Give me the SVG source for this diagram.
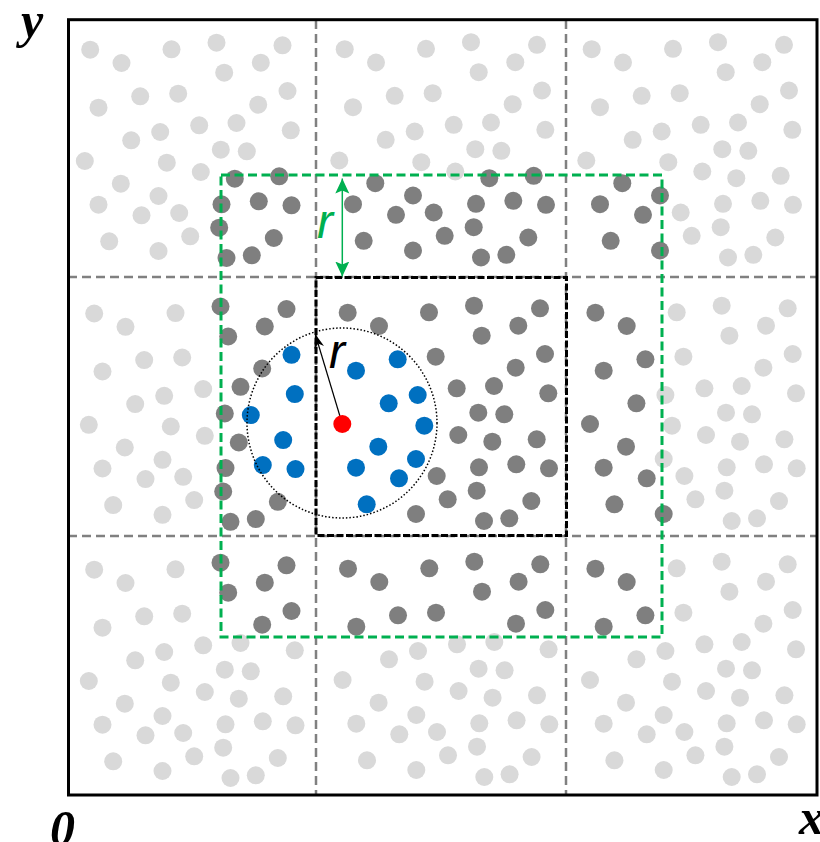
<svg xmlns="http://www.w3.org/2000/svg" xmlns:xlink="http://www.w3.org/1999/xlink" width="820" height="842" viewBox="0 0 820 842">
<style>
.L{fill:#d9d9d9}
.D{fill:#7f7f7f}
.B{fill:#0070c0}
.R{fill:#ff0000}
.grid{stroke:#808080;stroke-width:2.5;stroke-dasharray:9 5;fill:none}
.lbl{font-family:"Liberation Serif",serif;font-weight:bold;font-style:italic;font-size:50px;fill:#000}
.rl{font-family:"Liberation Sans",Arial,sans-serif;font-style:italic;font-size:48px}
</style>
<defs>
<circle id="d1" cx="347.7" cy="312.7" r="9"/>
<circle id="d2" cx="379" cy="326" r="9"/>
<circle id="d3" cx="429" cy="312.3" r="9"/>
<circle id="d4" cx="474" cy="305.7" r="9"/>
<circle id="d5" cx="540" cy="308.3" r="9"/>
<circle id="d6" cx="518.3" cy="325.7" r="9"/>
<circle id="d7" cx="481.7" cy="335.7" r="9"/>
<circle id="d8" cx="356" cy="370.7" r="9"/>
<circle id="d9" cx="397.7" cy="359.3" r="9"/>
<circle id="d10" cx="435.7" cy="356.7" r="9"/>
<circle id="d11" cx="545" cy="354" r="9"/>
<circle id="d12" cx="515.7" cy="367.7" r="9"/>
<circle id="d13" cx="388.7" cy="403.3" r="9"/>
<circle id="d14" cx="417.7" cy="395" r="9"/>
<circle id="d15" cx="456.7" cy="388.3" r="9"/>
<circle id="d16" cx="494" cy="386" r="9"/>
<circle id="d17" cx="548.3" cy="393.3" r="9"/>
<circle id="d18" cx="342.3" cy="424" r="9"/>
<circle id="d19" cx="424.3" cy="425.7" r="9"/>
<circle id="d20" cx="478.3" cy="412.7" r="9"/>
<circle id="d21" cx="504.3" cy="414.3" r="9"/>
<circle id="d22" cx="458.3" cy="435" r="9"/>
<circle id="d23" cx="378.3" cy="446.7" r="9"/>
<circle id="d24" cx="356" cy="467.7" r="9"/>
<circle id="d25" cx="416" cy="459" r="9"/>
<circle id="d26" cx="399" cy="478.3" r="9"/>
<circle id="d27" cx="436.7" cy="476" r="9"/>
<circle id="d28" cx="447.7" cy="499.3" r="9"/>
<circle id="d29" cx="366.7" cy="504.3" r="9"/>
<circle id="d30" cx="416" cy="514" r="9"/>
<circle id="d31" cx="492.3" cy="441.7" r="9"/>
<circle id="d32" cx="536.7" cy="439.3" r="9"/>
<circle id="d33" cx="479" cy="467.3" r="9"/>
<circle id="d34" cx="516.3" cy="464.3" r="9"/>
<circle id="d35" cx="549" cy="468.3" r="9"/>
<circle id="d36" cx="476.7" cy="490.7" r="9"/>
<circle id="d37" cx="531.3" cy="501" r="9"/>
<circle id="d38" cx="484" cy="521" r="9"/>
<circle id="d39" cx="509.3" cy="518.3" r="9"/>
<marker id="ahB" viewBox="0 0 14 10" refX="13" refY="5" markerWidth="14" markerHeight="10" markerUnits="userSpaceOnUse" orient="auto">
<path d="M0,0 L14,5 L0,10 L4,5 z" fill="#000"/>
</marker>
<marker id="ahG" viewBox="0 0 16 16" refX="15" refY="8" markerWidth="16" markerHeight="16" markerUnits="userSpaceOnUse" orient="auto-start-reverse">
<path d="M0,1 L15,8 L0,15 L3,8 z" fill="#00b050"/>
</marker>
</defs>
<rect x="0" y="0" width="820" height="842" fill="#fff"/>
<g id="dots">
<g id="cell-tl" transform="translate(-257.5,-263)">
<g class="L"><use href="#d1"/><use href="#d2"/><use href="#d3"/><use href="#d4"/><use href="#d5"/><use href="#d6"/><use href="#d7"/><use href="#d8"/><use href="#d9"/><use href="#d10"/><use href="#d11"/><use href="#d12"/><use href="#d13"/><use href="#d14"/><use href="#d15"/><use href="#d16"/><use href="#d17"/><use href="#d18"/><use href="#d19"/><use href="#d20"/><use href="#d21"/><use href="#d22"/><use href="#d23"/><use href="#d24"/><use href="#d25"/><use href="#d26"/><use href="#d27"/><use href="#d28"/><use href="#d29"/><use href="#d30"/></g>
<g class="D"><use href="#d31"/><use href="#d32"/><use href="#d33"/><use href="#d34"/><use href="#d35"/><use href="#d36"/><use href="#d37"/><use href="#d38"/><use href="#d39"/></g>
</g>
<g id="cell-tm" transform="translate(-3,-263.5)">
<g class="L"><use href="#d1"/><use href="#d2"/><use href="#d3"/><use href="#d4"/><use href="#d5"/><use href="#d6"/><use href="#d7"/><use href="#d8"/><use href="#d9"/><use href="#d10"/><use href="#d11"/><use href="#d12"/><use href="#d13"/><use href="#d14"/><use href="#d15"/><use href="#d16"/><use href="#d17"/><use href="#d18"/><use href="#d19"/><use href="#d20"/><use href="#d21"/><use href="#d22"/></g>
<g class="D"><use href="#d23"/><use href="#d24"/><use href="#d25"/><use href="#d26"/><use href="#d27"/><use href="#d28"/><use href="#d29"/><use href="#d30"/><use href="#d31"/><use href="#d32"/><use href="#d33"/><use href="#d34"/><use href="#d35"/><use href="#d36"/><use href="#d37"/><use href="#d38"/><use href="#d39"/></g>
</g>
<g id="cell-tr" transform="translate(244,-263.5)">
<g class="L"><use href="#d1"/><use href="#d2"/><use href="#d3"/><use href="#d4"/><use href="#d5"/><use href="#d6"/><use href="#d7"/><use href="#d8"/><use href="#d9"/><use href="#d10"/><use href="#d11"/><use href="#d12"/><use href="#d13"/><use href="#d14"/><use href="#d15"/><use href="#d16"/><use href="#d17"/><use href="#d18"/><use href="#d19"/><use href="#d20"/><use href="#d21"/><use href="#d22"/><use href="#d27"/><use href="#d28"/><use href="#d31"/><use href="#d32"/><use href="#d33"/><use href="#d34"/><use href="#d35"/><use href="#d36"/><use href="#d37"/><use href="#d38"/><use href="#d39"/></g>
<g class="D"><use href="#d23"/><use href="#d24"/><use href="#d25"/><use href="#d26"/><use href="#d29"/><use href="#d30"/></g>
</g>
<g id="cell-ml" transform="translate(-253.5,0.8)">
<g class="L"><use href="#d1"/><use href="#d2"/><use href="#d3"/><use href="#d8"/><use href="#d9"/><use href="#d10"/><use href="#d13"/><use href="#d14"/><use href="#d15"/><use href="#d18"/><use href="#d19"/><use href="#d22"/><use href="#d23"/><use href="#d24"/><use href="#d25"/><use href="#d26"/><use href="#d27"/><use href="#d28"/><use href="#d29"/><use href="#d30"/></g>
<g class="D"><use href="#d4"/><use href="#d5"/><use href="#d6"/><use href="#d7"/><use href="#d12"/><use href="#d16"/><use href="#d20"/><use href="#d31"/><use href="#d33"/><use href="#d36"/><use href="#d37"/><use href="#d38"/><use href="#d39"/></g>
<g class="B"><use href="#d11"/><use href="#d17"/><use href="#d21"/><use href="#d32"/><use href="#d34"/><use href="#d35"/></g>
</g>
<g id="cell-c">
<g class="D"><use href="#d1"/><use href="#d2"/><use href="#d3"/><use href="#d4"/><use href="#d5"/><use href="#d6"/><use href="#d7"/><use href="#d10"/><use href="#d11"/><use href="#d12"/><use href="#d15"/><use href="#d16"/><use href="#d17"/><use href="#d20"/><use href="#d21"/><use href="#d22"/><use href="#d27"/><use href="#d28"/><use href="#d30"/><use href="#d31"/><use href="#d32"/><use href="#d33"/><use href="#d34"/><use href="#d35"/><use href="#d36"/><use href="#d37"/><use href="#d38"/><use href="#d39"/></g>
<g class="B"><use href="#d8"/><use href="#d9"/><use href="#d13"/><use href="#d14"/><use href="#d19"/><use href="#d23"/><use href="#d24"/><use href="#d25"/><use href="#d26"/><use href="#d29"/></g>
</g>
<g id="cell-mr" transform="translate(247.7,0)">
<g class="L"><use href="#d3"/><use href="#d4"/><use href="#d5"/><use href="#d6"/><use href="#d7"/><use href="#d10"/><use href="#d11"/><use href="#d12"/><use href="#d14"/><use href="#d15"/><use href="#d16"/><use href="#d17"/><use href="#d19"/><use href="#d20"/><use href="#d21"/><use href="#d22"/><use href="#d25"/><use href="#d27"/><use href="#d28"/><use href="#d31"/><use href="#d32"/><use href="#d33"/><use href="#d34"/><use href="#d35"/><use href="#d36"/><use href="#d37"/><use href="#d38"/><use href="#d39"/></g>
<g class="D"><use href="#d1"/><use href="#d2"/><use href="#d8"/><use href="#d9"/><use href="#d13"/><use href="#d18"/><use href="#d23"/><use href="#d24"/><use href="#d26"/><use href="#d29"/><use href="#d30"/></g>
</g>
<g id="cell-bl" transform="translate(-253.5,257)">
<g class="L"><use href="#d1"/><use href="#d2"/><use href="#d3"/><use href="#d8"/><use href="#d9"/><use href="#d10"/><use href="#d13"/><use href="#d14"/><use href="#d15"/><use href="#d16"/><use href="#d17"/><use href="#d18"/><use href="#d19"/><use href="#d20"/><use href="#d21"/><use href="#d22"/><use href="#d23"/><use href="#d24"/><use href="#d25"/><use href="#d26"/><use href="#d27"/><use href="#d28"/><use href="#d29"/><use href="#d30"/><use href="#d31"/><use href="#d32"/><use href="#d33"/><use href="#d34"/><use href="#d35"/><use href="#d36"/><use href="#d37"/><use href="#d38"/><use href="#d39"/></g>
<g class="D"><use href="#d4"/><use href="#d5"/><use href="#d6"/><use href="#d7"/><use href="#d11"/><use href="#d12"/></g>
</g>
<g id="cell-bm" transform="translate(0.3,256)">
<g class="D"><use href="#d1"/><use href="#d2"/><use href="#d3"/><use href="#d4"/><use href="#d5"/><use href="#d6"/><use href="#d7"/><use href="#d8"/><use href="#d9"/><use href="#d10"/><use href="#d11"/><use href="#d12"/></g>
<g class="L"><use href="#d13"/><use href="#d14"/><use href="#d15"/><use href="#d16"/><use href="#d17"/><use href="#d18"/><use href="#d19"/><use href="#d20"/><use href="#d21"/><use href="#d22"/><use href="#d23"/><use href="#d24"/><use href="#d25"/><use href="#d26"/><use href="#d27"/><use href="#d28"/><use href="#d29"/><use href="#d30"/><use href="#d31"/><use href="#d32"/><use href="#d33"/><use href="#d34"/><use href="#d35"/><use href="#d36"/><use href="#d37"/><use href="#d38"/><use href="#d39"/></g>
</g>
<g id="cell-br" transform="translate(247.7,256)">
<g class="D"><use href="#d1"/><use href="#d2"/><use href="#d8"/><use href="#d9"/></g>
<g class="L"><use href="#d3"/><use href="#d4"/><use href="#d5"/><use href="#d6"/><use href="#d7"/><use href="#d10"/><use href="#d11"/><use href="#d12"/><use href="#d13"/><use href="#d14"/><use href="#d15"/><use href="#d16"/><use href="#d17"/><use href="#d18"/><use href="#d19"/><use href="#d20"/><use href="#d21"/><use href="#d22"/><use href="#d23"/><use href="#d24"/><use href="#d25"/><use href="#d26"/><use href="#d27"/><use href="#d28"/><use href="#d29"/><use href="#d30"/><use href="#d31"/><use href="#d32"/><use href="#d33"/><use href="#d34"/><use href="#d35"/><use href="#d36"/><use href="#d37"/><use href="#d38"/><use href="#d39"/></g>
</g>
</g>
<g id="grid">
<line class="grid" x1="316" y1="20" x2="316" y2="795"/>
<line class="grid" x1="566" y1="20" x2="566" y2="795"/>
<line class="grid" x1="68" y1="277" x2="817" y2="277"/>
<line class="grid" x1="68" y1="536" x2="817" y2="536"/>
</g>
<rect id="outer-box" x="68.5" y="19.7" width="748.5" height="775.3" fill="none" stroke="#000" stroke-width="3"/>
<rect id="center-cell" x="316" y="277.5" width="250.5" height="258" fill="none" stroke="#000" stroke-width="3" stroke-dasharray="7 2.5"/>
<rect id="cutoff-box" x="221" y="175" width="441" height="462" fill="none" stroke="#00b050" stroke-width="3" stroke-dasharray="9 4.5"/>
<circle id="cutoff-circle" cx="342" cy="423" r="95" fill="none" stroke="#000" stroke-width="1.5" stroke-dasharray="1.5 2"/>
<g id="connectors">
<line x1="342.3" y1="424" x2="315.5" y2="335" stroke="#000" stroke-width="1.2" marker-end="url(#ahB)"/>
<line x1="342.3" y1="178.5" x2="342.3" y2="276.5" stroke="#00b050" stroke-width="1.5" marker-start="url(#ahG)" marker-end="url(#ahG)"/>
</g>
<use href="#d18" class="R"/>
<g id="labels">
<text class="rl" x="329" y="368" fill="#000">r</text>
<text class="rl" x="317" y="238" fill="#00b050">r</text>
<text class="lbl" x="21" y="37">y</text>
<text class="lbl" x="50" y="845">0</text>
<text class="lbl" x="799" y="834">x</text>
</g>
</svg>
